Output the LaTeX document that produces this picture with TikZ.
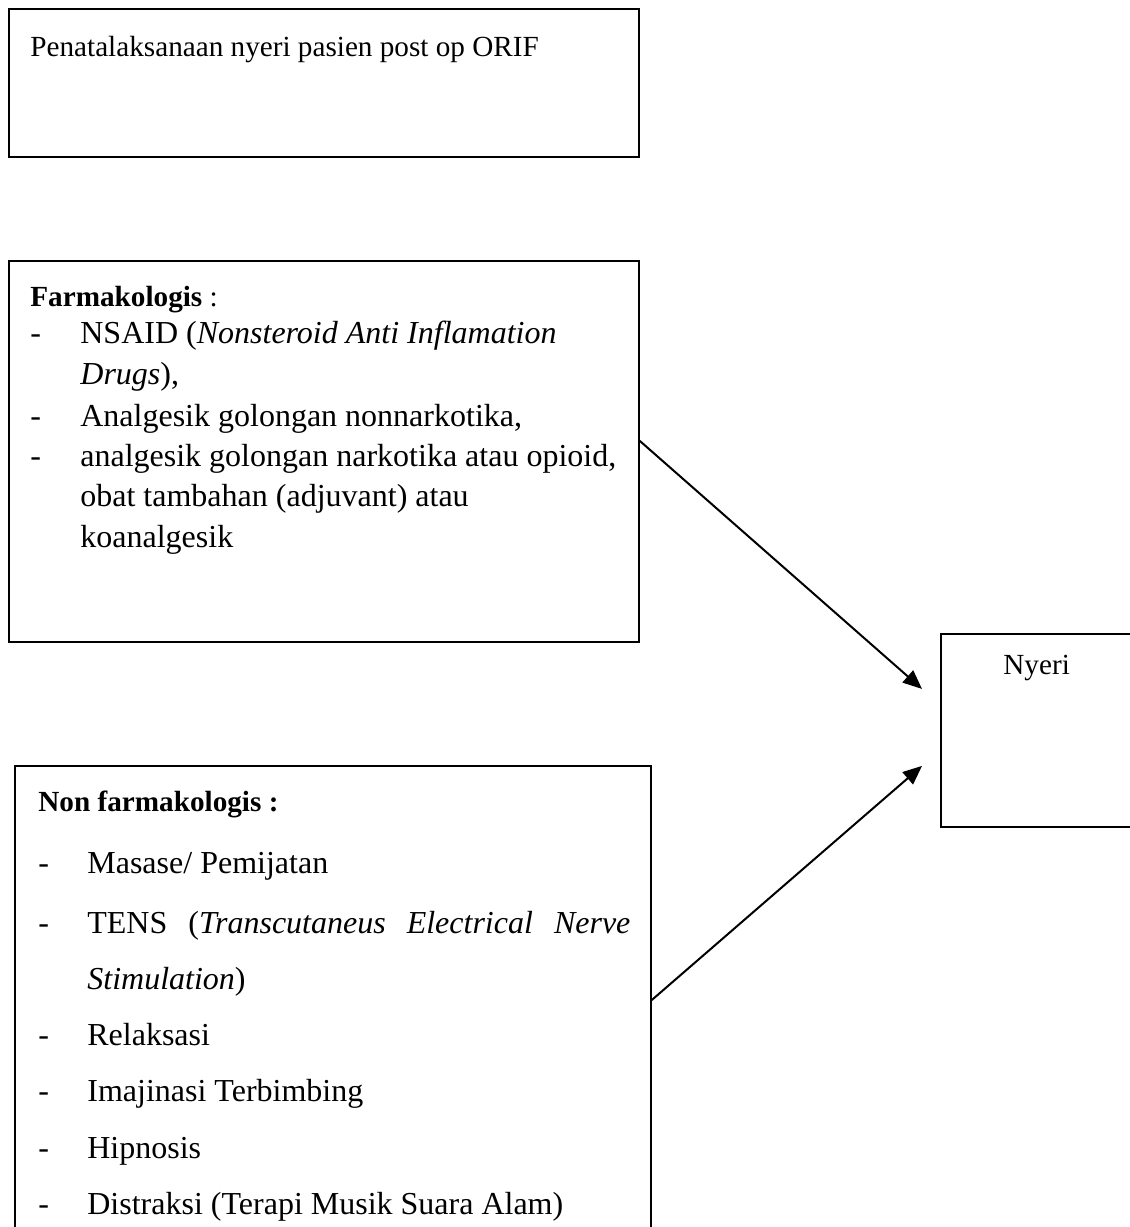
\documentclass[tikz,border=0pt]{standalone}
\usepackage{fontspec}
\setmainfont{Liberation Serif}
\usepackage{tikz}
\usetikzlibrary{positioning, arrows.meta}

\newcommand{\headsize}{\fontsize{14.6pt}{20.2pt}\selectfont}
\newcommand{\listsize}{\fontsize{16pt}{20.2pt}\selectfont}
\newcommand{\wordspace}{\spaceskip=0pt\xspaceskip=0pt\relax}

\begin{document}
\begin{tikzpicture}[
    x=0.5pt, y=-0.5pt,
    box/.style={draw, line width=0.9pt, inner sep=0pt, anchor=north west},
    txt/.style={anchor=base west, inner sep=0pt, align=left, font=\headsize},
    conn/.style={line width=1pt, -{Triangle[length=9.5pt, width=8pt]}}
]
    \useasboundingbox (0,0) rectangle (1130,1227);
    \clip (0,0) rectangle (1130,1227);

    % Boxes
    \node[box, minimum width=315pt, minimum height=74pt] (orif) at (8,8) {};
    \node[box, minimum width=315pt, minimum height=190.5pt] (farm) at (8,260) {};
    \node[box, minimum width=318pt, minimum height=250pt] (nonfarm) at (14,765) {};
    \node[box, minimum width=110pt, minimum height=96.5pt] (nyeri) at (940,633) {};

    % Texts
    \node[txt] (orif text) at (30,56) {\wordspace Penatalaksanaan nyeri pasien post op ORIF};
    \node[txt, text width=310pt, font=\listsize] (farm text) at (30,306) {\wordspace
        {\headsize\textbf{Farmakologis} :}\\[-1.4pt]
        \makebox[25pt][l]{-}NSAID (\textit{Nonsteroid Anti Inflamation}\\
        \hspace*{25pt}\textit{Drugs}),\\[0.8pt]
        \makebox[25pt][l]{-}Analgesik golongan nonnarkotika,\\
        \makebox[25pt][l]{-}analgesik golongan narkotika atau opioid,\\
        \hspace*{25pt}obat tambahan (adjuvant) atau\\
        \hspace*{25pt}koanalgesik};
    \node[txt, text width=310pt, font=\fontsize{16pt}{28.15pt}\selectfont] (nonfarm text) at (38,811) {\wordspace
        {\headsize\textbf{Non farmakologis :}}\\[3.2pt]
        \makebox[24.5pt][l]{-}Masase/ Pemijatan\\[1.5pt]
        \makebox[24.5pt][l]{-}\makebox[271.5pt][s]{TENS (\textit{Transcutaneus Electrical Nerve}}\\
        \hspace*{24.5pt}\textit{Stimulation})\\
        \makebox[24.5pt][l]{-}Relaksasi\\
        \makebox[24.5pt][l]{-}Imajinasi Terbimbing\\
        \makebox[24.5pt][l]{-}Hipnosis\\
        \makebox[24.5pt][l]{-}Distraksi (Terapi Musik Suara Alam)};
    \node[txt] (nyeri text) at (1003,674) {Nyeri};

    % Connections
    \draw[conn] ([yshift=5.25pt]farm.east) -- ([xshift=-9pt, yshift=20.75pt]nyeri.west);
    \draw[conn] ([yshift=-117.5pt]nonfarm.north east) -- ([xshift=-9pt, yshift=-17.75pt]nyeri.west);
\end{tikzpicture}
\end{document}
